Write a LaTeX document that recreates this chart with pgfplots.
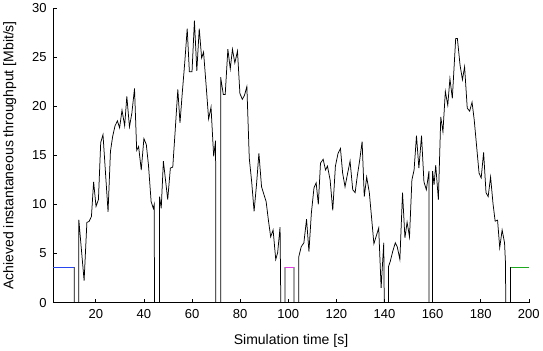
\documentclass[border=0pt]{standalone}
\usepackage{fontspec}
\setmainfont{Liberation Sans}
\usepackage{pgfplots}
\pgfplotsset{compat=1.18}
\definecolor{mblue}{RGB}{40,70,240}
\definecolor{mmag}{RGB}{230,60,230}
\definecolor{mgreen}{RGB}{30,170,30}
\begin{document}
\begin{tikzpicture}
\begin{axis}[
  scale only axis, width=476pt, height=295pt,
  xmin=2.3, xmax=200, ymin=0, ymax=30,
  xtick={20,40,...,200}, ytick={0,5,...,30},
  axis x line*=bottom, axis y line*=left,
  axis line style={-, line width=0.6pt},
  tick align=inside, major tick length=4pt,
  tick style={black, line width=0.6pt},
  ticklabel style={font=\fontsize{13}{15}\selectfont},
  xticklabel style={yshift=-3pt},
  yticklabel style={xshift=-3pt},
  label style={font=\fontsize{14}{17}\selectfont},
  xlabel={Simulation time [s]},
  ylabel={Achieved instantaneous throughput [Mbit/s]},
  xlabel style={yshift=-9pt},
  ylabel style={yshift=9pt},
  /pgf/number format/assume math mode=true,
]
\addplot[black, line width=0.75pt] coordinates {
(11,3.63)(11,0)(12.9,0)(12.95,8.44)(15.15,2.24)(16.3,8.17)(17.2,8.27)(18.2,8.78)(19.1,12.3)(20.1,9.8)(21.1,10.5)(22.05,16.3)(23.0,17.1)(25.1,9.25)(26.1,15.4)(27.0,16.9)(28.0,18.0)(29.0,18.5)(29.9,17.8)(30.9,19.6)(32.0,18.0)(32.9,21.0)(34.0,17.9)(35.0,19.3)(36.1,21.8)(37.0,15.5)(37.8,15.9)(38.9,13.5)(40.0,16.7)(41.0,16.1)(41.9,14.0)(43.0,10.3)(43.9,9.6)(44.3,10.0)(44.4,0)(46.5,0)(46.5,10.8)(47.2,9.6)(48.1,14.4)(49.9,10.5)(51.0,13.7)(52.0,13.8)(53.0,17.5)(54.1,21.7)(55.0,18.3)(56.0,21.5)(57.0,24.5)(58.0,27.9)(58.9,23.5)(60.0,23.5)(61.0,28.7)(62.0,23.6)(63.0,27.9)(64.0,24.9)(64.8,25.5)(65.9,22.0)(66.9,18.7)(67.9,19.9)(69.0,14.9)(69.8,16.5)(69.9,0)(71.9,0)(71.9,22.95)(73.0,21.2)(73.8,21.2)(74.9,25.8)(75.9,23.8)(76.8,25.8)(77.8,24.4)(78.9,25.6)(79.9,21.3)(80.9,20.7)(81.8,21.1)(82.8,22.0)(83.8,14.7)(84.8,12.3)(85.8,9.3)(86.8,12.0)(87.8,15.2)(88.9,11.8)(89.9,11.0)(90.8,10.3)(91.8,8.3)(92.7,6.7)(93.7,7.4)(94.8,4.4)(95.6,5.1)(96.6,7.7)(96.9,0)(98.7,0)(98.7,3.63)
};
\addplot[black, line width=0.75pt] coordinates {
(102.4,3.63)(102.4,0)(104.4,0)(104.4,4.7)(105.4,5.7)(106.5,6.1)(107.6,8.5)(108.6,5.2)(109.6,9.1)(110.7,11.7)(111.6,12.2)(112.5,10.0)(113.4,14.2)(114.5,14.6)(115.5,13.5)(116.3,13.9)(117.4,12.5)(118.5,9.4)(119.6,13.9)(120.7,15.2)(121.7,15.7)(122.6,13.2)(123.6,11.8)(124.7,13.2)(125.7,14.4)(126.8,11.5)(127.8,11.2)(128.7,12.9)(129.7,14.5)(130.7,16.4)(131.6,10.8)(132.6,12.8)(133.7,11.2)(134.8,8.2)(135.6,6.0)(136.6,6.8)(137.6,7.6)(138.6,1.5)(139.7,6.1)(139.9,0)(141.7,0)(141.7,3.7)(142.4,4.2)(143.4,5.2)(144.5,6.1)(145.3,5.7)(146.4,4.4)(147.5,11.2)(148.5,6.6)(149.4,8.2)(150.4,6.7)(151.4,12.5)(152.3,13.5)(153.3,17.0)(154.3,13.7)(155.4,17.0)(156.4,12.3)(157.4,11.5)(158.5,13.4)(158.5,0)(160.0,0)(160.0,13.4)(160.6,12.0)(161.3,14.0)(162.4,10.5)(163.4,18.9)(164.3,17.4)(165.3,21.5)(166.3,20.1)(167.2,22.8)(168.2,20.8)(169.6,26.9)(170.3,26.9)(171.4,24.2)(172.4,22.7)(173.3,24.0)(174.4,19.8)(175.4,19.5)(176.4,20.4)(177.3,18.6)(178.3,15.9)(179.3,13.2)(180.2,12.7)(181.2,15.3)(182.2,11.2)(183.1,10.8)(184.1,12.8)(185.1,10.1)(186.0,8.3)(187.0,8.4)(187.9,5.6)(188.9,7.4)(189.9,6.1)(190.3,4.0)(190.4,0)(192.4,0)(192.4,3.63)
};
\addplot[mblue, line width=1pt] coordinates {(2.3,3.63) (11,3.63)};
\addplot[mmag, line width=1pt] coordinates {(98.7,3.63) (102.4,3.63)};
\addplot[mgreen, line width=1pt] coordinates {(192.4,3.63) (200,3.63)};
\end{axis}
\end{tikzpicture}
\end{document}
